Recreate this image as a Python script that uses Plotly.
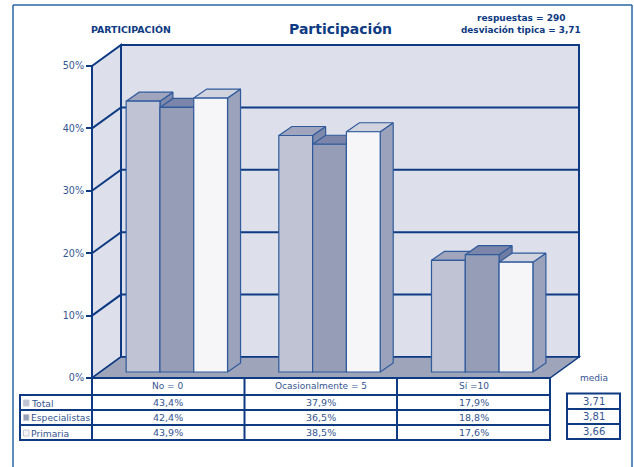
import plotly.graph_objects as go

categories = ["No = 0", "Ocasionalmente = 5", "Sí =10"]
series_names = ["Total", "Especialistas", "Primaria"]
total_values = [43.4, 37.9, 17.9]
especialistas_values = [42.4, 36.5, 18.8]
primaria_values = [43.9, 38.5, 17.6]
media_values = ["3,71", "3,81", "3,66"]
y_ticks = [0, 10, 20, 30, 40, 50]

all_values = [total_values, especialistas_values, primaria_values]
front_colors = ["#bfc3d3", "#959db7", "#f6f6f8"]
top_colors = ["#a0a4bd", "#7b85a9", "#d1d3df"]
side_colors = ["#7f89ab", "#6f7ba1", "#9aa3bb"]

W, H = 634, 467
X0, Y0 = 92, 378
UX, UY = 152.67, 6.24
NAVY = "#0d3a82"
EDGE = "#2f5a9c"
TXT = "#34558f"
WALL = "#dde0ea"
FLOOR = "#9ea4ba"
FONT = "DejaVu Sans"

xr = [(0 - X0) / UX, (W - X0) / UX]
yr = [(Y0 - H) / UY, Y0 / UY]

wall_dx, wall_dy = 29 / UX, 21 / UY
bar_w = 33.8 / UX
bar_dx, bar_dy = 13 / UX, 9 / UY
bar_base = 6 / UY
cat_shift = 8.5 / UX


def px(x):
    return x / W


def py(y):
    return 1 - y / H


def path(points):
    return "M" + " L".join(f"{a},{b}" for a, b in points) + " Z"


shapes = []
# walls and floor, in axis units
ymax = y_ticks[-1]
nc = len(categories)
shapes.append(dict(type="path", xref="x", yref="y", layer="below", fillcolor=WALL,
                   line=dict(color=NAVY, width=2),
                   path=path([(wall_dx, wall_dy), (nc + wall_dx, wall_dy),
                              (nc + wall_dx, ymax + wall_dy), (wall_dx, ymax + wall_dy)])))
shapes.append(dict(type="path", xref="x", yref="y", layer="below", fillcolor=WALL,
                   line=dict(color=NAVY, width=2),
                   path=path([(0, 0), (wall_dx, wall_dy), (wall_dx, ymax + wall_dy), (0, ymax)])))
shapes.append(dict(type="path", xref="x", yref="y", layer="below", fillcolor=FLOOR,
                   line=dict(color=NAVY, width=1.5),
                   path=path([(0, 0), (wall_dx, wall_dy), (nc + wall_dx, wall_dy), (nc, 0)])))


def rect(x0, y0, x1, y1, color=NAVY, width=2, fill=None):
    d = dict(type="rect", xref="paper", yref="paper", x0=px(x0), x1=px(x1), y0=py(y0), y1=py(y1),
             line=dict(color=color, width=width))
    if fill:
        d["fillcolor"] = fill
    return d


def hline(x0, x1, y, color=NAVY, width=2):
    return dict(type="line", xref="paper", yref="paper", x0=px(x0), x1=px(x1), y0=py(y), y1=py(y),
                line=dict(color=color, width=width))


def vline(x, y0, y1, color=NAVY, width=2):
    return dict(type="line", xref="paper", yref="paper", x0=px(x), x1=px(x), y0=py(y0), y1=py(y1),
                line=dict(color=color, width=width))


# outer frame (open at the bottom of the page)
shapes += [vline(13, 5, 467, "#2a66a6", 1.5), vline(632, 5, 467, "#2a66a6", 1.5),
           hline(13, 632, 5, "#2a66a6", 1.5)]

# data table
col_x = [92, 244.5, 397, 550]
row_y = [395, 410, 425, 440]
shapes.append(rect(92, 378, 550, 440))
shapes.append(rect(20, 395, 92, 440))
for x in col_x[1:-1]:
    shapes.append(vline(x, 378, 440))
for y in row_y[:-1]:
    shapes.append(hline(20, 550, y))

# media table
media_y = [393.5, 409, 424, 439]
shapes.append(rect(567, media_y[0], 620, media_y[-1]))
for y in media_y[1:-1]:
    shapes.append(hline(567, 620, y))

ann = []


def text(x, y, s, size=9.5, bold=False, color=TXT, anchor="center"):
    ann.append(dict(xref="paper", yref="paper", x=px(x), y=py(y), text=f"<b>{s}</b>" if bold else s,
                    showarrow=False, xanchor=anchor, yanchor="middle",
                    font=dict(family=FONT, size=size, color=color)))


text(130.5, 29.5, "PARTICIPACIÓN", 9.4, True, NAVY)
text(340.5, 29, "Participación", 14, True, NAVY)
text(521.5, 18, "respuestas = 290", 9, True, NAVY)
text(521, 29.5, "desviación tipica = 3,71", 8.9, True, NAVY)
text(593.5, 378, "media", 9)

centers = [(col_x[i] + col_x[i + 1]) / 2 for i in range(3)]
for i, c in enumerate(categories):
    text(centers[i], 385.5, c, 9)
row_c = [403, 417.5, 433]
for j, name in enumerate(series_names):
    shapes.append(rect(23.5, row_c[j] - 3, 29, row_c[j] + 3, "#c5c8d4", 1, front_colors[j]))
    text(29, row_c[j], name, 9.2, anchor="left")
    for i in range(3):
        text(centers[i], row_c[j] - 0.5, f"{all_values[j][i]:.1f}%".replace(".", ","))
media_c = [401, 416, 431]
for j, m in enumerate(media_values):
    text(593.5, media_c[j], m, 10)

fig = go.Figure()

# grid on walls
gx, gy = [], []
for t in y_ticks[1:-1]:
    gx += [0, wall_dx, nc + wall_dx, None]
    gy += [t, t + wall_dy, t + wall_dy, None]
fig.add_trace(go.Scatter(x=gx, y=gy, mode="lines", line=dict(color=NAVY, width=2),
                         hoverinfo="skip", showlegend=False, cliponaxis=False))

offset = [-1, 0, 1]
# side and top faces, painted left to right
for i in range(nc):
    for j in range(3):
        v = all_values[j][i]
        x_l = i + 0.5 + cat_shift + offset[j] * bar_w - bar_w / 2
        x_r = x_l + bar_w
        top = v + bar_base
        sx = [x_r, x_r + bar_dx, x_r + bar_dx, x_r, x_r]
        sy = [bar_base, bar_base + bar_dy, top + bar_dy, top, bar_base]
        fig.add_trace(go.Scatter(x=sx, y=sy, mode="lines", fill="toself", fillcolor=side_colors[j],
                                 line=dict(color=EDGE, width=1.2), hoverinfo="skip", showlegend=False))
        tx = [x_l, x_r, x_r + bar_dx, x_l + bar_dx, x_l]
        ty = [top, top, top + bar_dy, top + bar_dy, top]
        fig.add_trace(go.Scatter(x=tx, y=ty, mode="lines", fill="toself", fillcolor=top_colors[j],
                                 line=dict(color=EDGE, width=1.2), hoverinfo="skip", showlegend=False))

# front faces
for j, name in enumerate(series_names):
    fig.add_trace(go.Bar(x=[i + 0.5 + cat_shift + offset[j] * bar_w for i in range(nc)],
                         y=all_values[j], base=[bar_base] * nc, width=bar_w, name=name,
                         marker=dict(color=front_colors[j], line=dict(color=EDGE, width=1.2)),
                         xaxis="x2", yaxis="y2", showlegend=False))

fig.update_layout(
    width=W, height=H, autosize=False, margin=dict(l=0, r=0, t=0, b=0),
    paper_bgcolor="white", plot_bgcolor="white", barmode="overlay", showlegend=False,
    shapes=shapes, annotations=ann,
    xaxis=dict(range=xr, domain=[0, 1], visible=False, fixedrange=True),
    yaxis=dict(range=yr, domain=[0, 1], anchor="free", position=X0 / W, side="left",
               tickvals=y_ticks, ticktext=[f"{t}%" for t in y_ticks], showgrid=False, zeroline=False,
               showline=False, ticks="outside", ticklen=6, tickwidth=2, tickcolor=NAVY,
               tickfont=dict(family=FONT, size=9.6, color=TXT), fixedrange=True),
    xaxis2=dict(range=xr, domain=[0, 1], overlaying="x", visible=False, fixedrange=True),
    yaxis2=dict(range=yr, domain=[0, 1], overlaying="y", visible=False, fixedrange=True),
)

fig.write_html("out.html", config=dict(displayModeBar=False),
               post_script="document.body.style.margin='0';document.body.style.overflow='hidden';")
